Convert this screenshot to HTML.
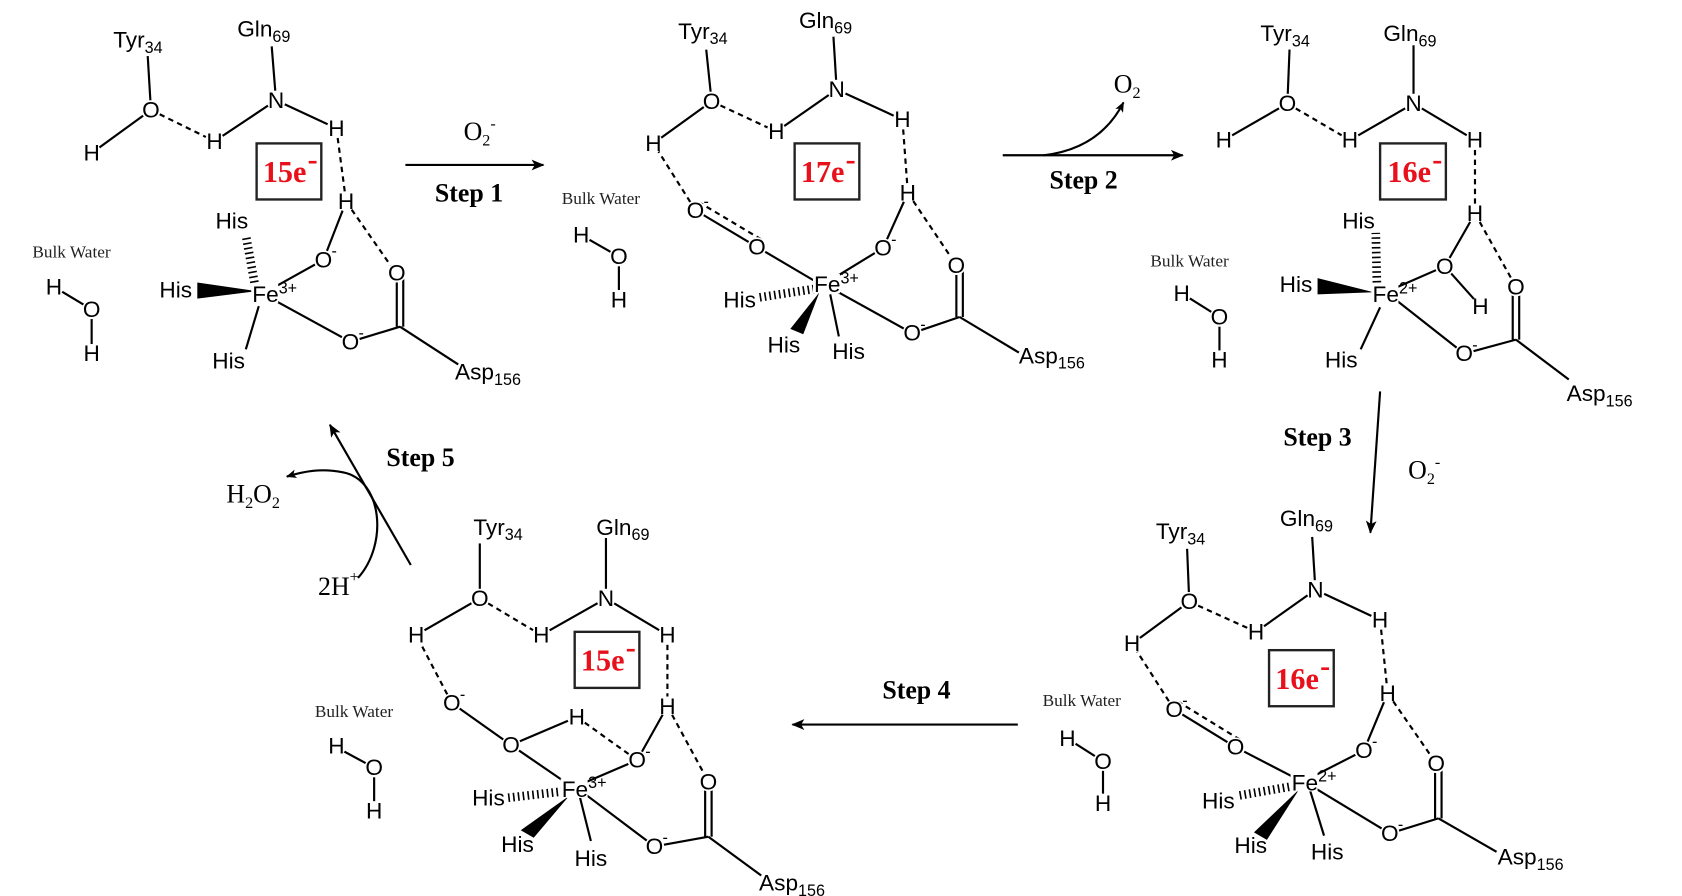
<!DOCTYPE html>
<html><head><meta charset="utf-8"><style>
html,body{margin:0;padding:0;background:#fff;}
svg{display:block;}
.a{font-family:"Liberation Sans",sans-serif;font-size:21px;text-anchor:middle;}
.l{font-family:"Liberation Sans",sans-serif;font-size:21px;}
.s{font-size:15px;}
.bw{font-family:"Liberation Serif",serif;font-size:16px;}
.st{font-family:"Liberation Serif",serif;font-size:24px;font-weight:bold;text-anchor:middle;}
.rx{font-family:"Liberation Serif",serif;font-size:24px;}
.e{font-family:"Liberation Serif",serif;font-size:28px;font-weight:bold;text-anchor:middle;}
line,path.b{stroke:#000;stroke-width:2;fill:none;}
.d{stroke-dasharray:5,4;}
.h{stroke-width:8 !important;stroke-dasharray:1.5,3;}
rect.box{fill:none;stroke:#222;stroke-width:2.2;}
</style></head><body>
<svg width="1682" height="896" viewBox="0 0 1560 831" preserveAspectRatio="none" xmlns="http://www.w3.org/2000/svg">
<defs>
<marker id="ar" viewBox="0 0 12 10" refX="11" refY="5" markerWidth="12" markerHeight="10" markerUnits="userSpaceOnUse" orient="auto"><path d="M0,0 L12,5 L0,10 L3,5 z" fill="#000"/></marker>
<marker id="ar2" viewBox="0 0 12 10" refX="11" refY="5" markerWidth="10" markerHeight="8" markerUnits="userSpaceOnUse" orient="auto"><path d="M0,0 L12,5 L0,10 L3,5 z" fill="#000"/></marker>
</defs>

<!-- ===== bonds S1 ===== -->
<line x1="137" y1="52" x2="140" y2="102"/>
<line x1="140" y1="102" x2="85" y2="142"/>
<line class="d" x1="140" y1="102" x2="199" y2="131"/>
<line x1="199" y1="131" x2="256" y2="93"/>
<line x1="252" y1="43" x2="256" y2="93"/>
<line x1="256" y1="93" x2="312" y2="119"/>
<line class="d" x1="312" y1="119" x2="321" y2="187"/>
<line x1="321" y1="187" x2="300" y2="241"/>
<line class="d" x1="321" y1="187" x2="367" y2="253"/>
<line x1="300" y1="241" x2="248" y2="270"/>
<line x1="250" y1="276" x2="325" y2="317"/>
<line x1="325" y1="317" x2="371" y2="303"/>
<line x1="368" y1="253" x2="368" y2="303"/>
<line x1="374" y1="253" x2="374" y2="303"/>
<line x1="371" y1="303" x2="425" y2="338"/>
<line class="h" x1="236" y1="262" x2="228" y2="218"/>
<polygon points="183,262 183,277 238,270" fill="#000"/>
<line x1="240" y1="284" x2="228" y2="324"/>
<line x1="50" y1="266" x2="85" y2="287"/>
<line x1="85" y1="287" x2="85" y2="328"/>
<rect class="box" x="238" y="133" width="60" height="52"/>

<line x1="376" y1="153" x2="504" y2="153" marker-end="url(#ar)"/>

<!-- ===== bonds S2 ===== -->
<line x1="655" y1="46" x2="660" y2="94"/>
<line x1="660" y1="94" x2="606" y2="133"/>
<line class="d" x1="660" y1="94" x2="720" y2="122"/>
<line x1="720" y1="122" x2="776" y2="83"/>
<line x1="773" y1="34" x2="776" y2="83"/>
<line x1="776" y1="83" x2="837" y2="111"/>
<line class="d" x1="837" y1="111" x2="842" y2="179"/>
<line x1="842" y1="179" x2="819" y2="230"/>
<line class="d" x1="842" y1="179" x2="887" y2="246"/>
<line x1="819" y1="230" x2="770" y2="260"/>
<line x1="772" y1="268" x2="846" y2="309"/>
<line x1="846" y1="309" x2="890" y2="294"/>
<line x1="887" y1="246" x2="887" y2="294"/>
<line x1="893" y1="246" x2="893" y2="294"/>
<line x1="890" y1="294" x2="945" y2="327"/>
<line x1="758" y1="262" x2="702" y2="229"/>
<line x1="702" y1="229" x2="645" y2="195"/>
<line class="d" x1="706" y1="222" x2="649" y2="188"/>
<line class="d" x1="645" y1="195" x2="606" y2="133"/>
<line class="h" x1="755" y1="268" x2="703" y2="276"/>
<polygon points="760,271 733,305 745,310" fill="#000"/>
<line x1="770" y1="273" x2="778" y2="312"/>
<line x1="539" y1="218" x2="574" y2="238"/><line x1="574" y1="238" x2="574" y2="278"/>
<rect class="box" x="737" y="133" width="60" height="52"/>

<line x1="930" y1="144" x2="1097" y2="144" marker-end="url(#ar)"/>
<path class="b" d="M968,144 Q1020,138 1042,95" marker-end="url(#ar2)"/>

<!-- ===== bonds S3 ===== -->
<line x1="1196" y1="46" x2="1194" y2="96"/>
<line x1="1194" y1="96" x2="1135" y2="130"/>
<line class="d" x1="1194" y1="96" x2="1252" y2="130"/>
<line x1="1252" y1="130" x2="1311" y2="96"/>
<line x1="1311" y1="42" x2="1311" y2="96"/>
<line x1="1311" y1="96" x2="1368" y2="130"/>
<line class="d" x1="1368" y1="130" x2="1368" y2="198"/>
<line x1="1368" y1="198" x2="1340" y2="247"/>
<line class="d" x1="1368" y1="198" x2="1406" y2="266"/>
<line x1="1340" y1="247" x2="1373" y2="284"/>
<line x1="1340" y1="247" x2="1292" y2="268"/>
<line x1="1292" y1="276" x2="1358" y2="328"/>
<line x1="1358" y1="328" x2="1406" y2="315"/>
<line x1="1403" y1="266" x2="1403" y2="315"/>
<line x1="1409" y1="266" x2="1409" y2="315"/>
<line x1="1406" y1="315" x2="1455" y2="352"/>
<line class="h" x1="1277" y1="262" x2="1276" y2="216"/>
<polygon points="1222,258 1222,273 1274,271" fill="#000"/>
<line x1="1280" y1="285" x2="1262" y2="324"/>
<line x1="1096" y1="272" x2="1131" y2="294"/><line x1="1131" y1="294" x2="1131" y2="334"/>
<rect class="box" x="1280" y="133" width="61" height="52"/>

<line x1="1280" y1="363" x2="1271" y2="494" marker-end="url(#ar)"/>

<!-- ===== bonds S4 ===== -->
<line x1="1101" y1="509" x2="1103" y2="558"/>
<line x1="1103" y1="558" x2="1050" y2="597"/>
<line class="d" x1="1103" y1="558" x2="1165" y2="586"/>
<line x1="1165" y1="586" x2="1220" y2="547"/>
<line x1="1217" y1="498" x2="1220" y2="547"/>
<line x1="1220" y1="547" x2="1280" y2="575"/>
<line class="d" x1="1280" y1="575" x2="1287" y2="643"/>
<line x1="1287" y1="643" x2="1265" y2="696"/>
<line class="d" x1="1287" y1="643" x2="1332" y2="708"/>
<line x1="1265" y1="696" x2="1218" y2="720"/>
<line x1="1218" y1="730" x2="1289" y2="773"/>
<line x1="1289" y1="773" x2="1334" y2="759"/>
<line x1="1331" y1="708" x2="1331" y2="759"/>
<line x1="1337" y1="708" x2="1337" y2="759"/>
<line x1="1334" y1="759" x2="1388" y2="790"/>
<line x1="1202" y1="722" x2="1146" y2="693"/>
<line x1="1146" y1="693" x2="1089" y2="658"/>
<line class="d" x1="1150" y1="686" x2="1093" y2="651"/>
<line class="d" x1="1089" y1="658" x2="1050" y2="597"/>
<line class="h" x1="1200" y1="729" x2="1148" y2="738"/>
<polygon points="1205,732 1163,772 1175,779" fill="#000"/>
<line x1="1215" y1="733" x2="1228" y2="775"/>
<line x1="990" y1="685" x2="1023" y2="706"/><line x1="1023" y1="706" x2="1023" y2="745"/>
<rect class="box" x="1177" y="603" width="60" height="52"/>

<line x1="944" y1="672" x2="735" y2="672" marker-end="url(#ar)"/>

<!-- ===== bonds S5 ===== -->
<line x1="445" y1="504" x2="445" y2="555"/>
<line x1="445" y1="555" x2="386" y2="589"/>
<line class="d" x1="445" y1="555" x2="502" y2="589"/>
<line x1="502" y1="589" x2="562" y2="555"/>
<line x1="562" y1="499" x2="562" y2="555"/>
<line x1="562" y1="555" x2="619" y2="589"/>
<line class="d" x1="619" y1="589" x2="619" y2="655"/>
<line x1="619" y1="655" x2="591" y2="705"/>
<line class="d" x1="619" y1="655" x2="657" y2="725"/>
<line x1="591" y1="705" x2="542" y2="726"/>
<line x1="542" y1="736" x2="607" y2="785"/>
<line x1="607" y1="785" x2="657" y2="776"/>
<line x1="654" y1="725" x2="654" y2="776"/>
<line x1="660" y1="725" x2="660" y2="776"/>
<line x1="657" y1="776" x2="706" y2="812"/>
<line x1="525" y1="726" x2="474" y2="691"/>
<line x1="474" y1="691" x2="419" y2="652"/>
<line class="d" x1="419" y1="652" x2="386" y2="589"/>
<line x1="474" y1="691" x2="535" y2="665"/>
<line class="d" x1="535" y1="665" x2="591" y2="705"/>
<line class="h" x1="522" y1="734" x2="470" y2="740"/>
<polygon points="528,738 483,770 495,777" fill="#000"/>
<line x1="538" y1="740" x2="548" y2="780"/>
<line x1="310" y1="692" x2="347" y2="712"/><line x1="347" y1="712" x2="347" y2="752"/>
<rect class="box" x="533" y="586" width="60" height="52"/>

<line x1="381" y1="524" x2="306" y2="394" marker-end="url(#ar)"/>
<path class="b" d="M332,536 C360,505 355,445 318,438 C298,434 282,437 266,442" marker-end="url(#ar2)"/>

<!-- white backgrounds behind atom labels -->
<g fill="#fff">
<circle cx="140" cy="102" r="9"/><circle cx="85" cy="142" r="9"/><circle cx="199" cy="131" r="9"/><circle cx="256" cy="93" r="9"/><circle cx="312" cy="119" r="9"/><circle cx="321" cy="187" r="9"/><circle cx="300" cy="241" r="9"/><circle cx="368" cy="253" r="9"/><circle cx="325" cy="317" r="9"/><circle cx="85" cy="287" r="9"/><circle cx="50" cy="266" r="9"/><circle cx="85" cy="328" r="9"/>
<circle cx="660" cy="94" r="9"/><circle cx="606" cy="133" r="9"/><circle cx="720" cy="122" r="9"/><circle cx="776" cy="83" r="9"/><circle cx="837" cy="111" r="9"/><circle cx="842" cy="179" r="9"/><circle cx="819" cy="230" r="9"/><circle cx="887" cy="246" r="9"/><circle cx="846" cy="309" r="9"/><circle cx="702" cy="229" r="9"/><circle cx="645" cy="195" r="9"/><circle cx="539" cy="218" r="9"/><circle cx="574" cy="238" r="9"/><circle cx="574" cy="278" r="9"/>
<circle cx="1194" cy="96" r="9"/><circle cx="1135" cy="130" r="9"/><circle cx="1252" cy="130" r="9"/><circle cx="1311" cy="96" r="9"/><circle cx="1368" cy="130" r="9"/><circle cx="1368" cy="198" r="9"/><circle cx="1340" cy="247" r="9"/><circle cx="1373" cy="284" r="9"/><circle cx="1406" cy="266" r="9"/><circle cx="1358" cy="328" r="9"/><circle cx="1096" cy="272" r="9"/><circle cx="1131" cy="294" r="9"/><circle cx="1131" cy="334" r="9"/>
<circle cx="1103" cy="558" r="9"/><circle cx="1050" cy="597" r="9"/><circle cx="1165" cy="586" r="9"/><circle cx="1220" cy="547" r="9"/><circle cx="1280" cy="575" r="9"/><circle cx="1287" cy="643" r="9"/><circle cx="1265" cy="696" r="9"/><circle cx="1332" cy="708" r="9"/><circle cx="1289" cy="773" r="9"/><circle cx="1146" cy="693" r="9"/><circle cx="1089" cy="658" r="9"/><circle cx="990" cy="685" r="9"/><circle cx="1023" cy="706" r="9"/><circle cx="1023" cy="745" r="9"/>
<circle cx="445" cy="555" r="9"/><circle cx="386" cy="589" r="9"/><circle cx="502" cy="589" r="9"/><circle cx="562" cy="555" r="9"/><circle cx="619" cy="589" r="9"/><circle cx="619" cy="655" r="9"/><circle cx="591" cy="705" r="9"/><circle cx="657" cy="725" r="9"/><circle cx="607" cy="785" r="9"/><circle cx="474" cy="691" r="9"/><circle cx="419" cy="652" r="9"/><circle cx="535" cy="665" r="9"/><circle cx="312" cy="692" r="9"/><circle cx="347" cy="712" r="9"/><circle cx="347" cy="752" r="9"/>
<rect x="233" y="263" width="25" height="18"/><rect x="754" y="254" width="25" height="18"/><rect x="1272" y="263" width="25" height="18"/><rect x="1197" y="716" width="25" height="18"/><rect x="520" y="722" width="25" height="18"/>
</g>

<!-- labels -->
<g fill="#000">
<!-- S1 -->
<text class="l" x="105" y="44">Tyr<tspan class="s" dy="5">34</tspan></text>
<text class="l" x="220" y="34">Gln<tspan class="s" dy="5">69</tspan></text>
<text class="a" x="140" y="109">O</text>
<text class="a" x="85" y="149">H</text>
<text class="a" x="199" y="138">H</text>
<text class="a" x="256" y="100">N</text>
<text class="a" x="312" y="126">H</text>
<text class="a" x="321" y="194">H</text>
<text class="a" x="300" y="248">O</text><text class="a s" x="310" y="238">-</text>
<text class="a" x="368" y="260">O</text>
<text class="a" x="325" y="324">O</text><text class="a s" x="335" y="314">-</text>
<text class="l" x="422" y="352">Asp<tspan class="s" dy="5">156</tspan></text>
<text class="l" x="234" y="280">Fe<tspan class="s" dy="-8">3+</tspan></text>
<text class="a" x="215" y="212">His</text>
<text class="a" x="163" y="276">His</text>
<text class="a" x="212" y="342">His</text>
<text class="a" x="50" y="273">H</text><text class="a" x="85" y="294">O</text><text class="a" x="85" y="335">H</text>
<!-- S2 -->
<text class="l" x="629" y="36">Tyr<tspan class="s" dy="5">34</tspan></text>
<text class="l" x="741" y="26">Gln<tspan class="s" dy="5">69</tspan></text>
<text class="a" x="660" y="101">O</text>
<text class="a" x="606" y="140">H</text>
<text class="a" x="720" y="129">H</text>
<text class="a" x="776" y="90">N</text>
<text class="a" x="837" y="118">H</text>
<text class="a" x="842" y="186">H</text>
<text class="a" x="819" y="237">O</text><text class="a s" x="829" y="227">-</text>
<text class="a" x="887" y="253">O</text>
<text class="a" x="846" y="316">O</text><text class="a s" x="856" y="306">-</text>
<text class="l" x="945" y="337">Asp<tspan class="s" dy="5">156</tspan></text>
<text class="a" x="702" y="236">O</text>
<text class="a" x="645" y="202">O</text><text class="a s" x="655" y="192">-</text>
<text class="l" x="755" y="271">Fe<tspan class="s" dy="-8">3+</tspan></text>
<text class="a" x="686" y="285">His</text>
<text class="a" x="727" y="327">His</text>
<text class="a" x="787" y="333">His</text>
<text class="a" x="539" y="225">H</text><text class="a" x="574" y="245">O</text><text class="a" x="574" y="285">H</text>
<!-- S3 -->
<text class="l" x="1169" y="38">Tyr<tspan class="s" dy="5">34</tspan></text>
<text class="l" x="1283" y="38">Gln<tspan class="s" dy="5">69</tspan></text>
<text class="a" x="1194" y="103">O</text>
<text class="a" x="1135" y="137">H</text>
<text class="a" x="1252" y="137">H</text>
<text class="a" x="1311" y="103">N</text>
<text class="a" x="1368" y="137">H</text>
<text class="a" x="1368" y="205">H</text>
<text class="a" x="1340" y="254">O</text>
<text class="a" x="1373" y="291">H</text>
<text class="a" x="1406" y="273">O</text>
<text class="a" x="1358" y="335">O</text><text class="a s" x="1368" y="325">-</text>
<text class="l" x="1453" y="372">Asp<tspan class="s" dy="5">156</tspan></text>
<text class="l" x="1273" y="280">Fe<tspan class="s" dy="-8">2+</tspan></text>
<text class="a" x="1260" y="212">His</text>
<text class="a" x="1202" y="271">His</text>
<text class="a" x="1244" y="341">His</text>
<text class="a" x="1096" y="279">H</text><text class="a" x="1131" y="301">O</text><text class="a" x="1131" y="341">H</text>
<!-- S4 -->
<text class="l" x="1072" y="500">Tyr<tspan class="s" dy="5">34</tspan></text>
<text class="l" x="1187" y="488">Gln<tspan class="s" dy="5">69</tspan></text>
<text class="a" x="1103" y="565">O</text>
<text class="a" x="1050" y="604">H</text>
<text class="a" x="1165" y="593">H</text>
<text class="a" x="1220" y="554">N</text>
<text class="a" x="1280" y="582">H</text>
<text class="a" x="1287" y="650">H</text>
<text class="a" x="1265" y="703">O</text><text class="a s" x="1275" y="693">-</text>
<text class="a" x="1332" y="715">O</text>
<text class="a" x="1289" y="780">O</text><text class="a s" x="1299" y="770">-</text>
<text class="l" x="1389" y="802">Asp<tspan class="s" dy="5">156</tspan></text>
<text class="a" x="1146" y="700">O</text>
<text class="a" x="1089" y="665">O</text><text class="a s" x="1099" y="655">-</text>
<text class="l" x="1198" y="733">Fe<tspan class="s" dy="-8">2+</tspan></text>
<text class="a" x="1130" y="750">His</text>
<text class="a" x="1160" y="791">His</text>
<text class="a" x="1231" y="797">His</text>
<text class="a" x="990" y="692">H</text><text class="a" x="1023" y="713">O</text><text class="a" x="1023" y="752">H</text>
<!-- S5 -->
<text class="l" x="439" y="496">Tyr<tspan class="s" dy="5">34</tspan></text>
<text class="l" x="553" y="496">Gln<tspan class="s" dy="5">69</tspan></text>
<text class="a" x="445" y="562">O</text>
<text class="a" x="386" y="596">H</text>
<text class="a" x="502" y="596">H</text>
<text class="a" x="562" y="562">N</text>
<text class="a" x="619" y="596">H</text>
<text class="a" x="619" y="662">H</text>
<text class="a" x="591" y="712">O</text><text class="a s" x="601" y="702">-</text>
<text class="a" x="657" y="732">O</text>
<text class="a" x="607" y="792">O</text><text class="a s" x="617" y="782">-</text>
<text class="l" x="704" y="826">Asp<tspan class="s" dy="5">156</tspan></text>
<text class="a" x="474" y="698">O</text>
<text class="a" x="419" y="659">O</text><text class="a s" x="429" y="649">-</text>
<text class="a" x="535" y="672">H</text>
<text class="l" x="521" y="739">Fe<tspan class="s" dy="-8">3+</tspan></text>
<text class="a" x="453" y="747">His</text>
<text class="a" x="480" y="790">His</text>
<text class="a" x="548" y="803">His</text>
<text class="a" x="312" y="699">H</text><text class="a" x="347" y="719">O</text><text class="a" x="347" y="759">H</text>

<text class="rx" x="430" y="130">O<tspan class="s" dy="5">2</tspan><tspan class="s" dy="-16">-</tspan></text>
<text class="st" x="435" y="187">Step 1</text>
<text class="rx" x="1033" y="86">O<tspan class="s" dy="5">2</tspan></text>
<text class="st" x="1005" y="175">Step 2</text>
<text class="st" x="1222" y="413">Step 3</text>
<text class="rx" x="1306" y="444">O<tspan class="s" dy="5">2</tspan><tspan class="s" dy="-16">-</tspan></text>
<text class="st" x="850" y="648">Step 4</text>
<text class="st" x="390" y="432">Step 5</text>
<text class="rx" x="210" y="466">H<tspan class="s" dy="5">2</tspan><tspan dy="-5">O</tspan><tspan class="s" dy="5">2</tspan></text>
<text class="rx" x="295" y="552">2H<tspan class="s" dy="-12">+</tspan></text>
</g>
<g fill="#222">
<text class="bw" x="30" y="239">Bulk Water</text>
<text class="bw" x="521" y="189">Bulk Water</text>
<text class="bw" x="1067" y="247">Bulk Water</text>
<text class="bw" x="967" y="655">Bulk Water</text>
<text class="bw" x="292" y="665">Bulk Water</text>
</g>
<g fill="#e8101a">
<text class="e" x="264" y="169">15e</text><text class="e s" x="290" y="157">-</text>
<text class="e" x="763" y="169">17e</text><text class="e s" x="789" y="157">-</text>
<text class="e" x="1307" y="169">16e</text><text class="e s" x="1333" y="157">-</text>
<text class="e" x="1203" y="639">16e</text><text class="e s" x="1229" y="627">-</text>
<text class="e" x="559" y="622">15e</text><text class="e s" x="585" y="610">-</text>
</g>
</svg>
</body></html>
